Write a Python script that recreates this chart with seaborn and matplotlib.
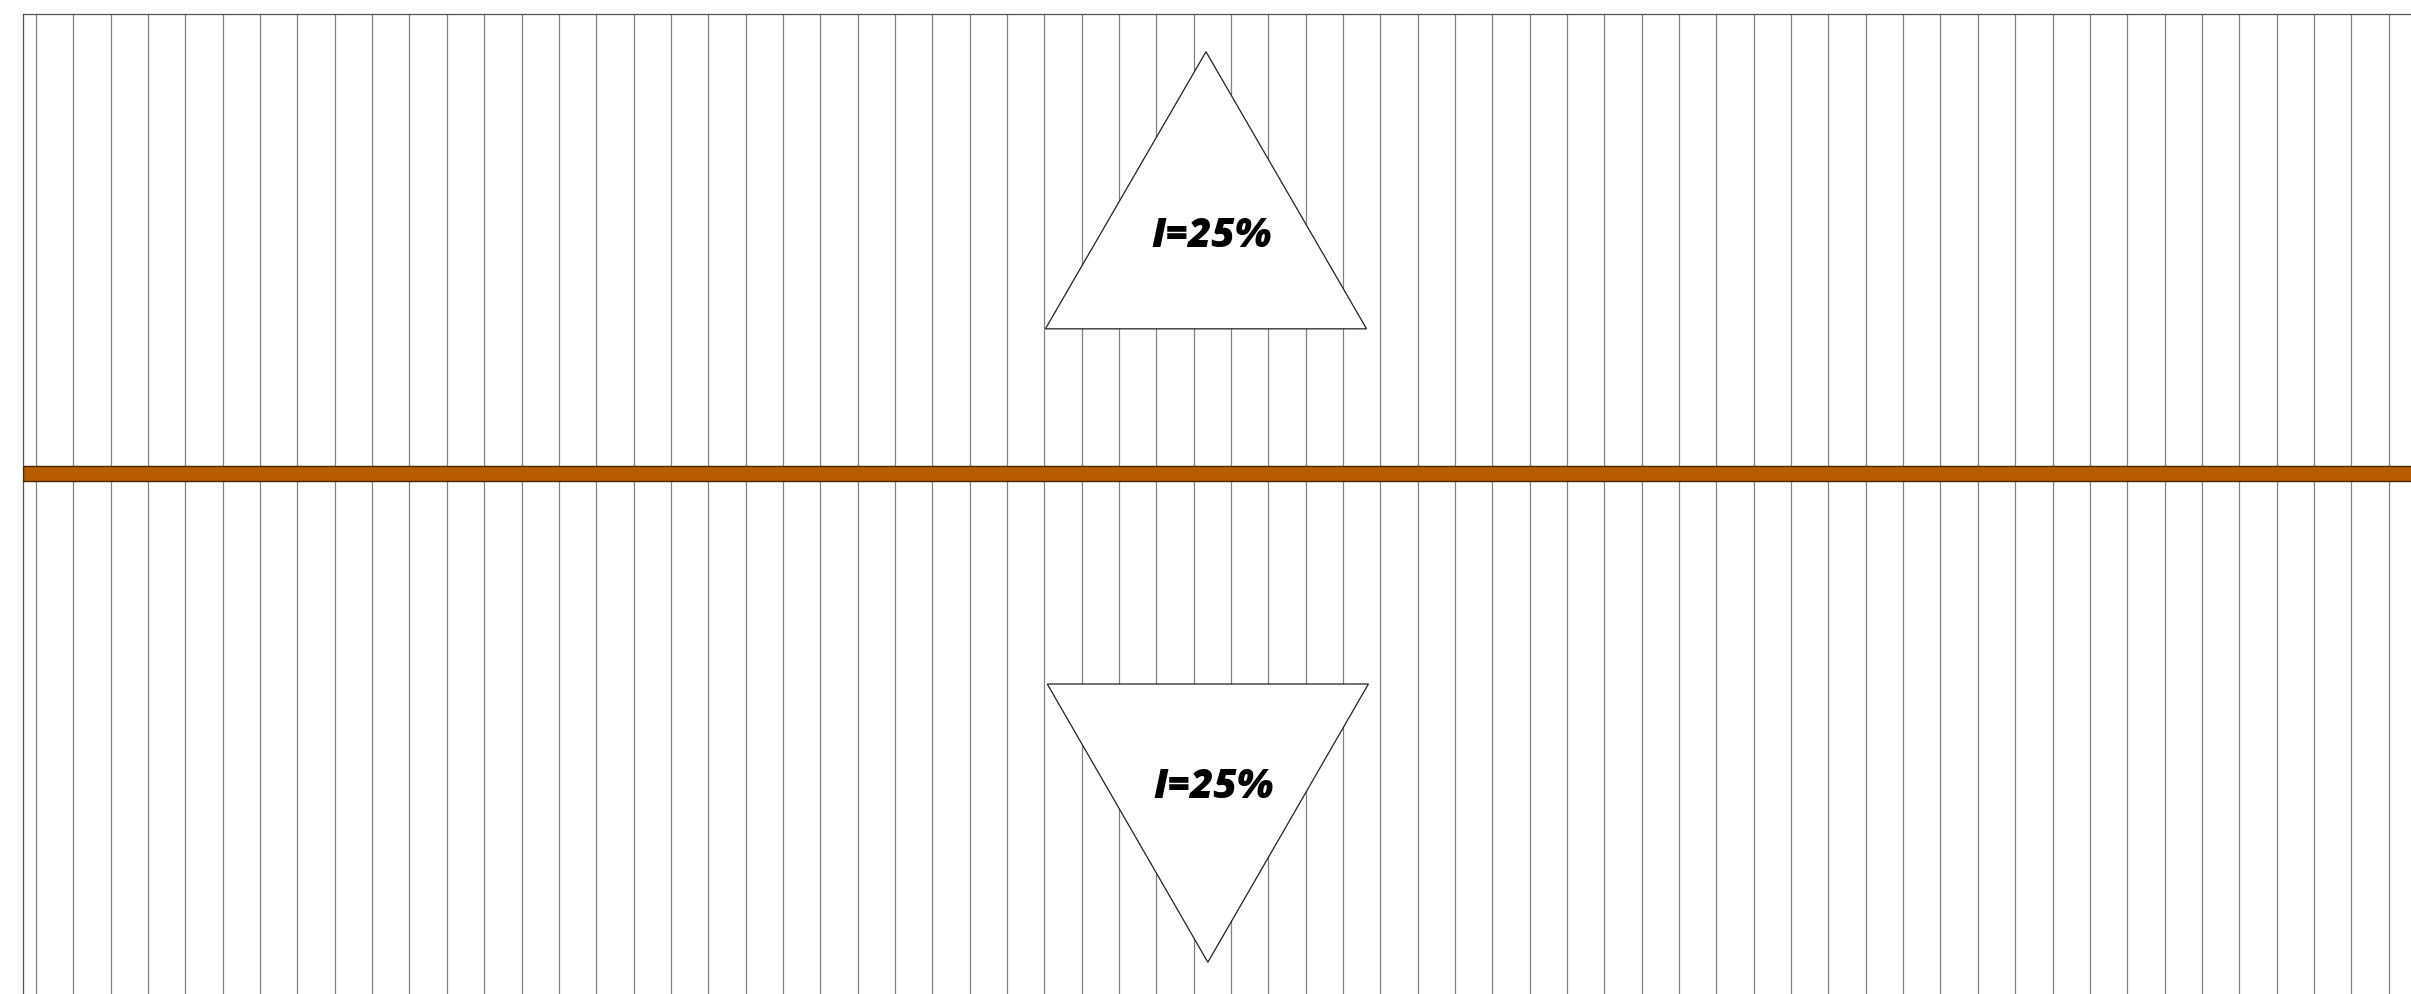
import matplotlib
matplotlib.use("Agg")
import matplotlib.pyplot as plt
import seaborn as sns

# Data
grid_x = list(range(64))              # vertical grid positions
bar_y = [0.0]                         # level of the horizontal band
bar_left = [-0.35]
bar_right = [64.0]
bar_thick = [0.42]

tri_labels = ["I=25%", "I=25%"]
tri_x = [31.33, 31.38]                # centre of each triangle
tri_base = [3.87, -5.64]              # y of the flat side
tri_tip = [11.29, -13.09]             # y of the apex
tri_width = [8.6, 8.6]
label_x = [31.49, 31.54]
label_y = [6.35, -8.42]

sns.set_style("white")

fig = plt.figure(figsize=(24.11, 9.94), dpi=100)
ax = fig.add_axes([23 / 2411, 0.0, 1 - 23 / 2411, 980 / 994])

# grid
ax.set_xticks(grid_x)
ax.set_yticks([])
ax.grid(True, axis="x", color="#808080", linewidth=0.9)
ax.set_axisbelow(True)
ax.tick_params(bottom=False, labelbottom=False, left=False, labelleft=False)

# band
for y, l, r, h in zip(bar_y, bar_left, bar_right, bar_thick):
    ax.barh(y, r - l, left=l, height=h, color="#b85c00",
            edgecolor="#4a2800", linewidth=1.0, zorder=3)

# triangles with labels
for lab, cx, yb, yt, w, lx, ly in zip(tri_labels, tri_x, tri_base, tri_tip,
                                      tri_width, label_x, label_y):
    ax.fill([cx - w / 2, cx + w / 2, cx], [yb, yb, yt], facecolor="white",
            edgecolor="#222222", linewidth=0.9, zorder=4)
    ax.text(lx, ly, lab, ha="center", va="center", fontsize=29,
            fontweight="heavy", fontstyle="italic", family=["Open Sans", "DejaVu Sans"],
            color="black", zorder=5)

ax.set_xlim(-0.35, 63.6)
ax.set_ylim(-13.94, 12.30)

for side in ["right", "bottom"]:
    ax.spines[side].set_visible(False)
for side in ["left", "top"]:
    ax.spines[side].set_color("#555555")
    ax.spines[side].set_linewidth(0.9)

fig.savefig("out.png", dpi=100)
